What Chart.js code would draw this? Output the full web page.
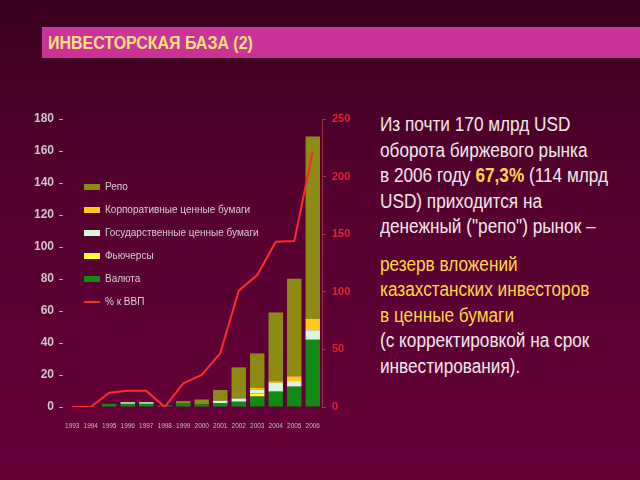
<!DOCTYPE html>
<html>
<head>
<meta charset="utf-8">
<script src="https://cdn.jsdelivr.net/npm/chart.js@4"></script>
<style>
  html, body { margin: 0; padding: 0; }
  body {
    width: 640px; height: 480px; overflow: hidden; position: relative;
    background: linear-gradient(to bottom, #3a001f 0%, #55002f 40%, #66003a 100%);
    font-family: "Liberation Sans", Arial, sans-serif;
  }
  #title {
    position: absolute; left: 42px; top: 27px; width: 598px; height: 31px;
    background: #cc3399; box-sizing: border-box; padding-left: 6px;
  }
  #title span {
    display: inline-block; color: #ffe27a; font-weight: bold; font-size: 19px;
    line-height: 31px; transform: scaleX(0.84); transform-origin: left center;
  }
  #chartBox { position: absolute; left: 0; top: 100px; width: 360px; height: 330px; }
  #note {
    position: absolute; left: 380px; top: 112px; width: 300px;
    font-size: 20px; line-height: 25.5px; color: #f2e8ec;
    transform: scaleX(0.86); transform-origin: left top;
  }
  #note .hl { color: #ffd54a; font-weight: bold; }
  #note .y { color: #ffd54a; }
</style>
</head>
<body>
<div id="title"><span>ИНВЕСТОРСКАЯ БАЗА (2)</span></div>
<div id="chartBox"><canvas id="barChart"></canvas></div>
<div id="note">
  Из почти 170 млрд USD<br>оборота биржевого рынка<br>в 2006 году <span class="hl">67,3%</span> (114 млрд<br>USD) приходится на<br>денежный ("репо") рынок –
  <div style="height:12px"></div>
  <span class="y">резерв вложений<br>казахстанских инвесторов<br>в ценные бумаги</span><br>(с корректировкой на срок<br>инвестирования).
</div>
<script>
(function () {
    const years = ["1993", "1994", "1995", "1996", "1997", "1998", "1999", "2000", "2001", "2002", "2003", "2004", "2005", "2006"];
    const valuta = [0, 0.5, 2, 2, 2, 1, 2.5, 1.7, 2.3, 3.3, 6.5, 9.6, 12.7, 42];
    const futures = [0, 0, 0, 0, 0, 0, 0, 0, 0, 0, 2, 0, 0, 0];
    const govBonds = [0, 0, 0, 1, 1, 0, 0, 0, 1.6, 2, 2.5, 5.5, 3.5, 6];
    const corpBonds = [0, 0, 0, 0, 0, 0, 0, 0, 0, 0, 1, 1, 3, 7];
    const repo = [0, 0, 0, 0, 0, 0, 1.2, 3, 6.7, 19.5, 21.5, 43, 61, 114];
    const gdpShare = [0, 0, 12.4, 14, 14, 0, 20.5, 27.8, 46.6, 101, 114.6, 143.5, 144, 221.6];
    const leftTicks = [0, 20, 40, 60, 80, 100, 120, 140, 160, 180];
    const rightTicks = [0, 50, 100, 150, 200, 250];

    const bar = (label, data, color) => ({
        type: 'bar', label: label, data: data, backgroundColor: color,
        stack: 's', yAxisID: 'y', barPercentage: 0.78, categoryPercentage: 1, order: 2
    });

    const datasets = [
        {
            type: 'line', label: '% к ВВП', data: gdpShare, yAxisID: 'y1',
            borderColor: '#ff2a2a', backgroundColor: '#ff2a2a', borderWidth: 2,
            pointRadius: 0, tension: 0, order: 0
        },
        bar('Валюта', valuta, '#138a13'),
        bar('Фьючерсы', futures, '#ffff33'),
        bar('Государственные ценные бумаги', govBonds, '#d9f7dc'),
        bar('Корпоративные ценные бумаги', corpBonds, '#ffc91a'),
        bar('Репо', repo, '#8c8c14')
    ];

    // legend drawn inside the plot area, top to bottom like the original
    const innerLegend = {
        id: 'innerLegend',
        afterDraw(chart) {
            const ctx = chart.ctx;
            const order = ['Репо', 'Корпоративные ценные бумаги', 'Государственные ценные бумаги', 'Фьючерсы', 'Валюта', '% к ВВП'];
            ctx.save();
            ctx.font = '10px "Liberation Sans", sans-serif';
            ctx.textBaseline = 'middle';
            order.forEach((name, i) => {
                const ds = chart.data.datasets.find(d => d.label === name);
                const y = 87 + i * 23;
                if (ds.type === 'line') {
                    ctx.strokeStyle = ds.borderColor;
                    ctx.lineWidth = 2;
                    ctx.beginPath();
                    ctx.moveTo(84, y);
                    ctx.lineTo(100, y);
                    ctx.stroke();
                } else {
                    ctx.fillStyle = ds.backgroundColor;
                    ctx.fillRect(84, y - 3, 16, 6);
                }
                ctx.fillStyle = '#d8cdd3';
                ctx.fillText(name, 105, y);
            });
            ctx.restore();
        }
    };

    const myChart = new Chart(document.getElementById('barChart'), {
        type: 'bar',
        data: { labels: years, datasets: datasets },
        plugins: [innerLegend],
        options: {
            responsive: true,
            maintainAspectRatio: false,
            animation: false,
            layout: { padding: { top: 19, right: 0, left: 0, bottom: 0 } },
            scales: {
                x: {
                    stacked: true,
                    grid: { display: false },
                    border: { display: false },
                    ticks: { color: '#c8b8c0', font: { size: 6.5 }, maxRotation: 0, autoSkip: false, padding: 7 },
                    afterFit(scale) { scale.height = 23; }
                },
                y: {
                    stacked: true,
                    min: 0, max: 180,
                    afterBuildTicks(scale) { scale.ticks = leftTicks.map(v => ({ value: v })); },
                    grid: { drawOnChartArea: false, drawTicks: true, tickLength: 4, color: '#b8a8b0', offset: false },
                    border: { display: false },
                    ticks: { color: '#cfc3c9', font: { size: 12, weight: 'bold' }, padding: 5 },
                    afterFit(scale) { scale.width = 63; }
                },
                y1: {
                    position: 'right',
                    min: 0, max: 250,
                    afterBuildTicks(scale) { scale.ticks = rightTicks.map(v => ({ value: v })); },
                    grid: { drawOnChartArea: false, drawTicks: true, tickLength: 4, color: '#a0304a' },
                    border: { display: true, color: '#a0304a' },
                    ticks: { color: '#e8202a', font: { size: 11, weight: 'bold' }, padding: 6 },
                    afterFit(scale) { scale.width = 38; }
                }
            },
            plugins: {
                legend: { display: false },
                tooltip: { enabled: false }
            }
        }
    });
})();
</script>
</body>
</html>
